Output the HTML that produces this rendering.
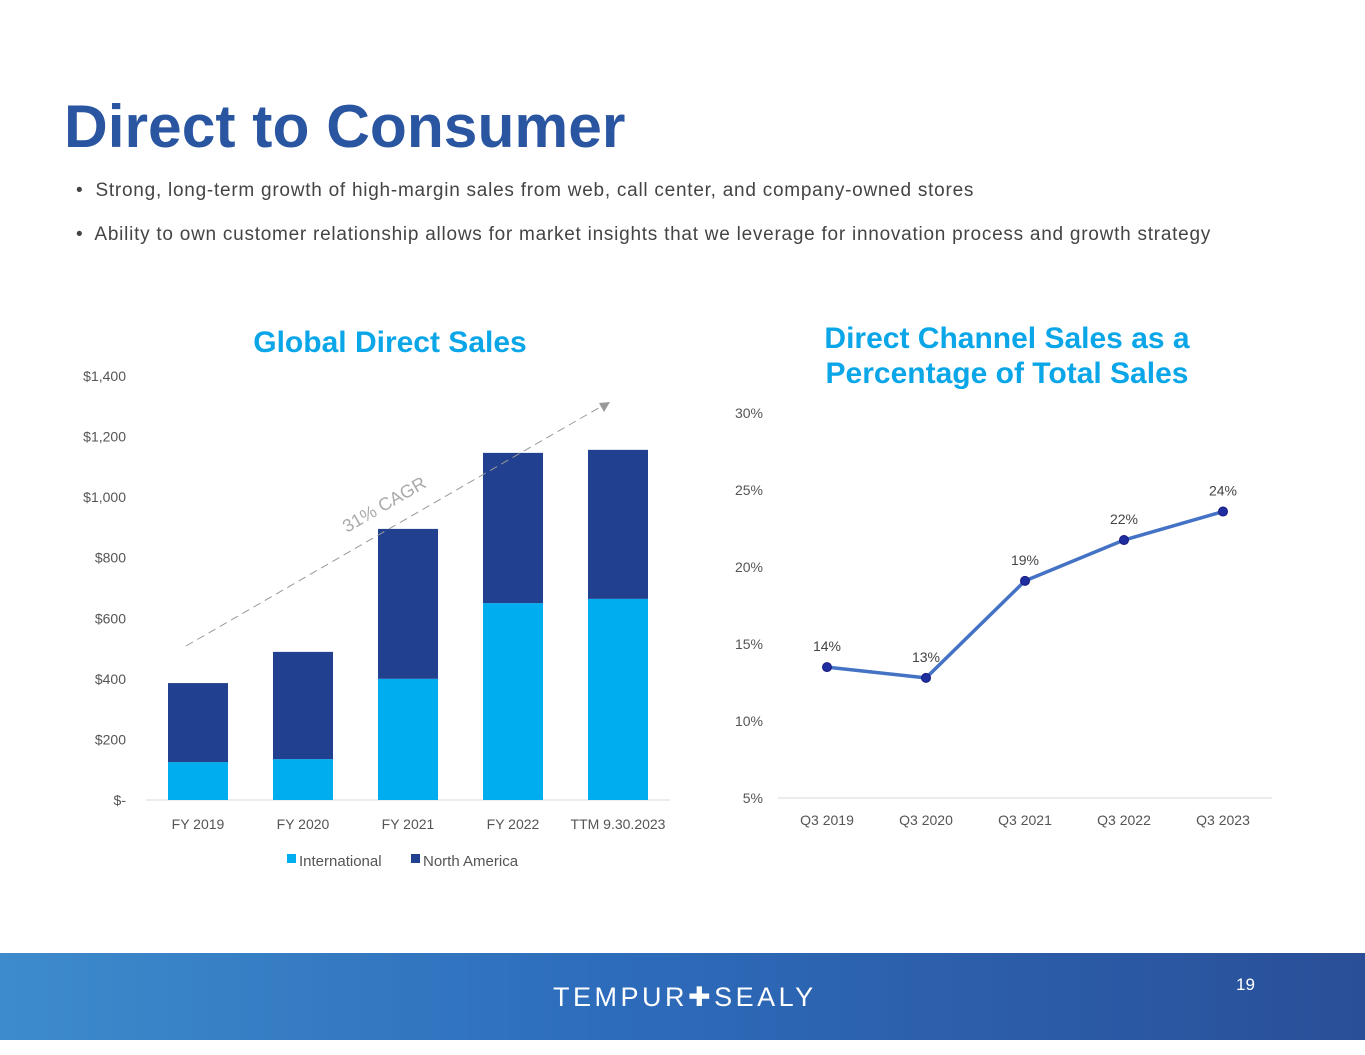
<!DOCTYPE html>
<html><head><meta charset="utf-8"><style>
body{margin:0;width:1365px;height:1055px;background:#fff;font-family:"Liberation Sans",sans-serif;position:relative;overflow:hidden}
.abs{position:absolute}
</style></head><body>
<div class="abs" style="left:64px;top:91px;font-size:60.5px;font-weight:bold;color:#2a55a0">Direct to Consumer</div>
<div class="abs" style="left:76px;top:180px;font-size:19px;letter-spacing:0.75px;color:#444">•&nbsp; Strong, long-term growth of high-margin sales from web, call center, and company-owned stores</div>
<div class="abs" style="left:76px;top:224px;font-size:19px;letter-spacing:0.75px;color:#444">•&nbsp; Ability to own customer relationship allows for market insights that we leverage for innovation process and growth strategy</div>
<div class="abs" style="left:140px;top:326px;width:500px;text-align:center;font-size:30px;font-weight:bold;color:#0aa6e8">Global Direct Sales</div>
<div class="abs" style="left:757px;top:321px;width:500px;text-align:center;font-size:30px;font-weight:bold;color:#0aa6e8;line-height:35px">Direct Channel Sales as a<br>Percentage of Total Sales</div>
<svg class="abs" style="left:0;top:0" width="1365" height="950" id="charts"></svg>
<div class="abs" style="left:0;top:953px;width:1365px;height:87px;background:linear-gradient(90deg,#3d8bcc,#2d6cbb 45%,#2a4f98)"></div>
<div class="abs" style="left:553px;top:982px;font-size:27px;color:#fff;letter-spacing:3.5px">TEMPUR✚SEALY</div>
<div class="abs" style="left:1236px;top:975px;font-size:17px;color:#fff">19</div>
<script>
const cats=["FY 2019","FY 2020","FY 2021","FY 2022","TTM 9.30.2023"];
const intl=[125,135,400,650,664];
const na=[261,354,495,496,492];
const yTicks=[0,200,400,600,800,1000,1200,1400];
const lineCats=["Q3 2019","Q3 2020","Q3 2021","Q3 2022","Q3 2023"];
const pct=[13.5,12.8,19.1,21.75,23.6];
const pctLabels=["14%","13%","19%","22%","24%"];
const pTicks=[5,10,15,20,25,30];
const svg=document.getElementById('charts');const NS="http://www.w3.org/2000/svg";
function mk(t,a,txt){const e=document.createElementNS(NS,t);for(const k in a)e.setAttribute(k,a[k]);if(txt!=null)e.textContent=txt;svg.appendChild(e);return e;}
const by=v=>800-v*0.3029, bx=i=>198+i*105;
yTicks.forEach(t=>{const e=mk('text',{x:126,y:by(t)+5,'text-anchor':'end','font-size':14,fill:'#555'},t===0?'$-':'$'+t.toLocaleString('en-US'));

});
mk('line',{x1:146,x2:670,y1:800,y2:800,stroke:'#d9d9d9'});
cats.forEach((c,i)=>{
const r1=mk('rect',{x:bx(i)-30,y:by(intl[i]),width:60,height:800-by(intl[i]),fill:'#00aeef'});


const r2=mk('rect',{x:bx(i)-30,y:by(intl[i]+na[i]),width:60,height:by(intl[i])-by(intl[i]+na[i]),fill:'#21408f'});


const t=mk('text',{x:bx(i),y:829,'text-anchor':'middle','font-size':14,fill:'#555'},c);

});
mk('line',{x1:186,y1:646,x2:602,y2:406,stroke:'#999','stroke-dasharray':'8,5'});
mk('polygon',{points:'599,403 610,402 604,412',fill:'#999'});
mk('text',{x:0,y:0,'font-size':18,fill:'#aaa',transform:'translate(347,533) rotate(-30)'},'31% CAGR');
mk('rect',{x:287,y:854,width:9,height:9,fill:'#00aeef'});
mk('text',{x:299,y:866,'font-size':15,fill:'#555'},'International');
mk('rect',{x:411,y:854,width:9,height:9,fill:'#21408f'});
mk('text',{x:423,y:866,'font-size':15,fill:'#555'},'North America');
const ly=v=>798-(v-5)*15.4, lx=i=>827+i*99;
pTicks.forEach(t=>{const e=mk('text',{x:763,y:ly(t)+5,'text-anchor':'end','font-size':14,fill:'#555'},t+'%');

});
mk('line',{x1:778,x2:1272,y1:798,y2:798,stroke:'#d9d9d9'});
lineCats.forEach((c,i)=>mk('text',{x:lx(i),y:825,'text-anchor':'middle','font-size':14,fill:'#555'},c));
const pl=mk('polyline',{points:pct.map((v,i)=>lx(i)+','+ly(v)).join(' '),fill:'none',stroke:'#4472c4','stroke-width':3.5});


pct.forEach((v,i)=>{const c=mk('circle',{cx:lx(i),cy:ly(v),r:4.5,fill:'#1f2fa0',stroke:'#1a1a80'});


mk('text',{x:lx(i),y:ly(v)-16,'text-anchor':'middle','font-size':14,fill:'#444'},pctLabels[i]);});
</script>
</body></html>
